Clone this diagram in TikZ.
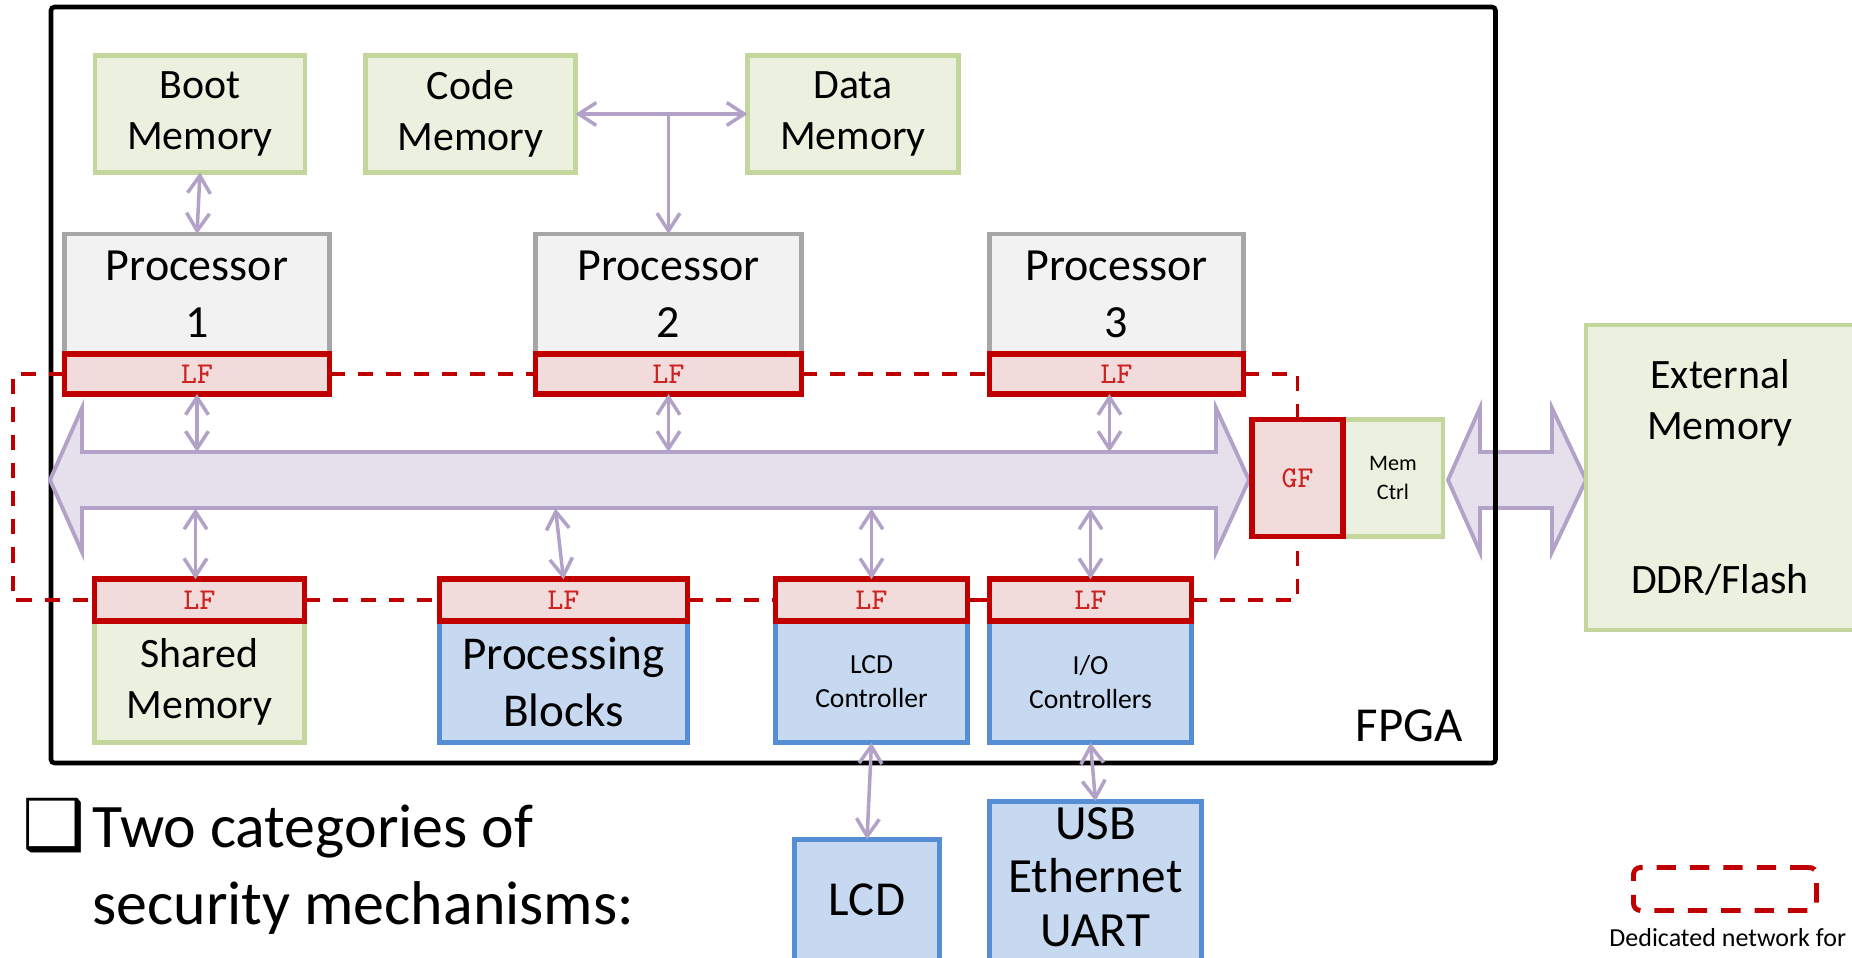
\documentclass[tikz,border=0pt]{standalone}
\usepackage{fontspec}
\setmainfont{Carlito}
\newfontfamily\symbolfont{DejaVu Sans}
\usetikzlibrary{positioning,arrows.meta}
\definecolor{memfill}{HTML}{EBF1DE}
\definecolor{memline}{HTML}{C3D69B}
\definecolor{procfill}{HTML}{F2F2F2}
\definecolor{procline}{HTML}{A6A6A6}
\definecolor{lffill}{HTML}{F2DCDB}
\definecolor{lfline}{HTML}{C00000}
\definecolor{lftext}{HTML}{CC2222}
\definecolor{blkfill}{HTML}{C6D9F1}
\definecolor{blkline}{HTML}{558ED5}
\definecolor{busfill}{HTML}{E5E0EC}
\definecolor{busline}{HTML}{B3A2C7}
\begin{document}
\begin{tikzpicture}[
        box/.style={draw, line width=1.4pt, inner sep=0pt, outer sep=0pt, align=center},
        membox/.style={box, draw=memline, fill=memfill},
        procbox/.style={box, draw=procline, fill=procfill, font=\fontsize{13.1}{16.2}\selectfont},
        blockbox/.style={box, draw=blkline, fill=blkfill},
        filterbox/.style={box, draw=lfline, fill=lffill, line width=1.7pt, text=lftext, font=\ttfamily\fontsize{8.6}{10}\selectfont},
        memfont/.style={font=\fontsize{11.9}{14.5}\selectfont},
        link/.style={draw=busline, line width=1pt, >={Straight Barb[length=5pt,width=6.5pt]}},
        net/.style={draw=lfline, line width=1.1pt, dash pattern=on 4.3pt off 3.7pt},
        bus/.style={draw=busline, fill=busfill, line width=1.1pt}]
    \useasboundingbox (0,0) rectangle (18.52,9.58);
    \draw[bus] (14.48,4.78) -- (14.80,5.50) -- (14.80,5.06) -- (15.52,5.06) -- (15.52,5.50) -- (15.86,4.78)
        -- (15.52,4.06) -- (15.52,4.50) -- (14.80,4.50) -- (14.80,4.06) -- cycle;
    \draw[line width=1.3pt, rounded corners=1pt] (0.51,1.95) rectangle (14.955,9.51);
    \node[anchor=base east, font=\fontsize{13.9}{16}\selectfont] (fpga) at (14.75,2.16) {FPGA};
    \draw[bus] (0.50,4.78) -- (0.82,5.50) -- (0.82,5.06) -- (12.16,5.06) -- (12.16,5.50) -- (12.49,4.78)
        -- (12.16,4.06) -- (12.16,4.50) -- (0.82,4.50) -- (0.82,4.06) -- cycle;
    \coordinate (bustop) at (0,5.06);
    \coordinate (busbot) at (0,4.495);
    \coordinate (netx) at (0.13,0);

    \node[membox, memfont, minimum width=2.10cm, minimum height=1.17cm] (boot) at (2.00,8.44) {Boot\\Memory};
    \node[membox, memfont, minimum width=2.10cm, minimum height=1.17cm] (code) at (4.705,8.44) {Code\\Memory};
    \node[membox, memfont, minimum width=2.11cm, minimum height=1.17cm] (data) at (8.53,8.44) {Data\\Memory};

    \node[procbox, minimum width=2.65cm, minimum height=1.20cm] (proc1) at (1.97,6.64) {Processor\\1};
    \node[procbox, minimum width=2.66cm, minimum height=1.20cm] (proc2) at (6.685,6.64) {Processor\\2};
    \node[procbox, minimum width=2.54cm, minimum height=1.20cm] (proc3) at (11.165,6.64) {Processor\\3};
    \node[filterbox, below=0pt of proc1, minimum width=2.65cm, minimum height=0.40cm] (lfa) {LF};
    \node[filterbox, below=0pt of proc2, minimum width=2.66cm, minimum height=0.40cm] (lfb) {LF};
    \node[filterbox, below=0pt of proc3, minimum width=2.54cm, minimum height=0.40cm] (lfc) {LF};

    \node[membox, memfont, minimum width=2.10cm, minimum height=1.215cm] (shared) at (1.995,2.76) {Shared\\Memory};
    \node[blockbox, font=\fontsize{13.4}{16.2}\selectfont, minimum width=2.48cm, minimum height=1.215cm] (pblocks) at (5.635,2.76) {Processing\\Blocks};
    \node[blockbox, font=\fontsize{7.85}{9.7}\selectfont, minimum width=1.92cm, minimum height=1.215cm] (lcdc) at (8.715,2.76) {LCD\\Controller};
    \node[blockbox, font=\fontsize{7.85}{9.7}\selectfont, minimum width=2.02cm, minimum height=1.215cm] (ioc) at (10.905,2.76) {I/O\\Controllers};
    \node[filterbox, above=0pt of shared, minimum width=2.10cm, minimum height=0.42cm] (lfd) {LF};
    \node[filterbox, above=0pt of pblocks, minimum width=2.48cm, minimum height=0.42cm] (lfe) {LF};
    \node[filterbox, above=0pt of lcdc, minimum width=1.92cm, minimum height=0.42cm] (lff) {LF};
    \node[filterbox, above=0pt of ioc, minimum width=2.02cm, minimum height=0.42cm] (lfg) {LF};

    \node[membox, font=\fontsize{6.3}{8}\selectfont, minimum width=1.00cm, minimum height=1.17cm] (memctrl) at (13.93,4.80) {Mem\\Ctrl};
    \node[filterbox, left=0pt of memctrl, minimum width=0.91cm, minimum height=1.17cm] (gf) {GF};
    \node[membox, memfont, minimum width=2.68cm, minimum height=3.05cm] (extmem) at (17.20,4.805) {External\\Memory\\[29.3pt]DDR/Flash};

    \node[blockbox, font=\fontsize{13.9}{16}\selectfont, minimum width=1.45cm, minimum height=1.205cm] (lcd) at (8.67,0.5825) {LCD};
    \node[blockbox, font=\fontsize{14}{15.2}\selectfont, text depth=0.10cm, minimum width=2.12cm, minimum height=1.615cm] (usb) at (10.955,0.76) {USB\\Ethernet\\UART};

    \draw[net] (lfa.west) -- (lfa.west -| netx) -- (lfd.west -| netx) -- (lfd.west);
    \draw[net] (lfa) -- (lfb);
    \draw[net] (lfb) -- (lfc);
    \draw[net] (lfc.east) -| (gf.north);
    \draw[net] (lfd) -- (lfe);
    \draw[net] (lfe) -- (lff);
    \draw[lfline, line width=1.1pt] (lff) -- (lfg);
    \draw[net] (lfg.east) -| (gf.south);

    \draw[link,<->] (boot.south) -- (proc1.north);
    \draw[link,<->] (code.east) -- (data.west);
    \draw[link,->] (code.east -| proc2.north) -- (proc2.north);
    \draw[link,<->] (lfa.south) -- (lfa.south |- bustop);
    \draw[link,<->] (lfb.south) -- (lfb.south |- bustop);
    \draw[link,<->] ([xshift=-0.07cm]lfc.south) -- ([xshift=-0.07cm]lfc.south |- bustop);
    \draw[link,<->] ([xshift=-0.04cm]lfd.north) -- ([xshift=-0.04cm]lfd.north |- busbot);
    \draw[link,<->] (lfe.north) -- ([xshift=-0.08cm]lfe.north |- busbot);
    \draw[link,<->] (lff.north) -- (lff.north |- busbot);
    \draw[link,<->] (lfg.north) -- (lfg.north |- busbot);
    \draw[link,<->] (lcdc.south) -- (lcd.north);
    \draw[link,<->] (ioc.south) -- (usb.north);

    \node[anchor=base west, font=\fontsize{20}{24}\selectfont] (bullet) at (0.10,1.08) {\symbolfont ❑};
    \node[anchor=base west, font=\fontsize{17.6}{21.9}\selectfont] (cat1) at (0.80,1.10) {Two categories of};
    \node[anchor=base west, font=\fontsize{17.6}{21.9}\selectfont] (cat2) at (0.80,0.33) {security mechanisms:};

    \node[draw=lfline, line width=1.4pt, dash pattern=on 5.5pt off 4pt, rounded corners=2pt, inner sep=0pt,
        minimum width=1.83cm, minimum height=0.43cm] (key) at (17.25,0.69) {};
    \node[anchor=base west, font=\fontsize{7.4}{9}\selectfont] (keytext) at (15.97,0.11) {Dedicated network for};
\end{tikzpicture}
\end{document}
